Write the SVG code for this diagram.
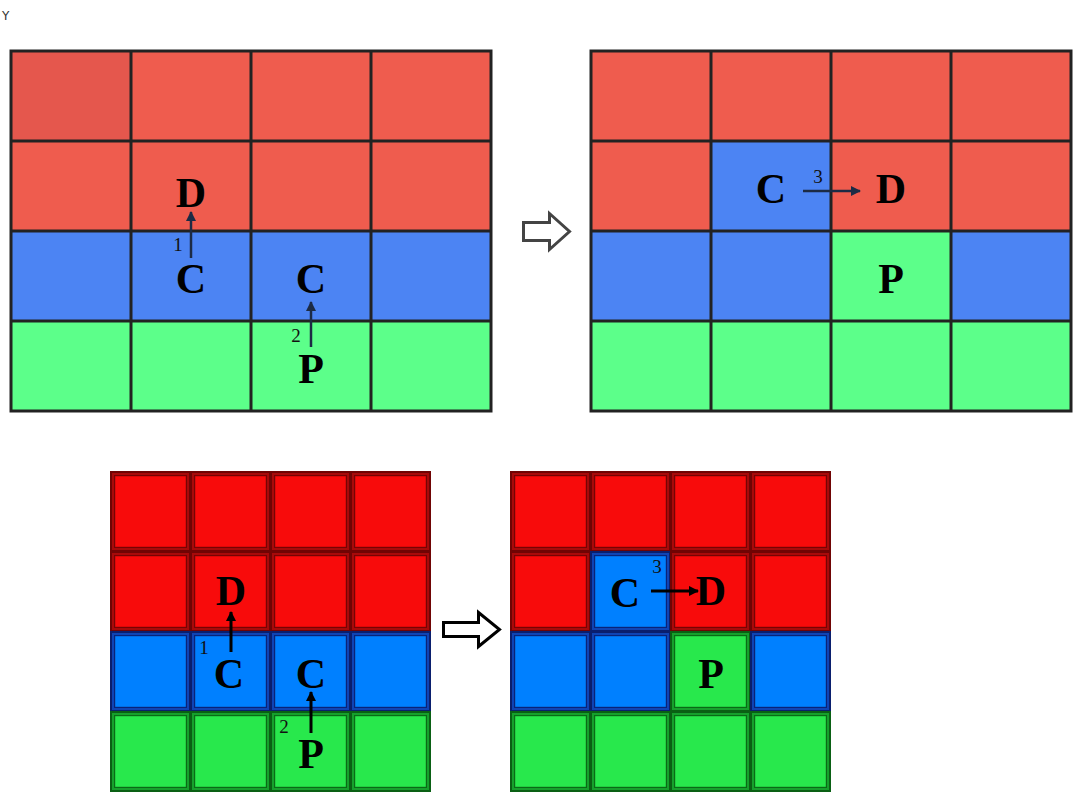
<svg xmlns="http://www.w3.org/2000/svg" width="1073" height="793" viewBox="0 0 1073 793">
<defs>
<style>
.r{fill:#ef5c4e}.b{fill:#4c84f3}.g{fill:#5cff8a}
.grid{stroke:#222;stroke-width:3;fill:none}
.lbl{font-family:"Liberation Serif",serif;font-weight:bold;font-size:42px;text-anchor:middle;fill:#000}
.num{font-family:"Liberation Serif",serif;font-size:19px;text-anchor:middle;fill:#111}
.br{fill:#a80a0a;stroke:#700404;stroke-width:2}
.bri{fill:#f80b0b;stroke:#750404;stroke-width:1.2}
.bb{fill:#0f44b5;stroke:#0a1f6e;stroke-width:2}
.bbi{fill:#0080ff;stroke:#0a2378;stroke-width:1.2}
.bg{fill:#16a02c;stroke:#0a6014;stroke-width:2}
.bgi{fill:#28e84c;stroke:#0a6a16;stroke-width:1.2}
.ar1{stroke:#1c2b45;stroke-width:2.5;fill:none;marker-end:url(#ah1)}
.ar2{stroke:#000;stroke-width:3;fill:none;marker-end:url(#ah2)}
</style>
<marker id="ah1" viewBox="0 0 10 10" refX="9" refY="5" markerWidth="4" markerHeight="4" orient="auto"><path d="M0,0 L10,5 L0,10 z" fill="#1c2b45"/></marker>
<marker id="ah2" viewBox="0 0 10 10" refX="9" refY="5" markerWidth="3.5" markerHeight="3.5" orient="auto"><path d="M0,0 L10,5 L0,10 z" fill="#000"/></marker>
</defs>
<rect width="1073" height="793" fill="#fff"/>
<text x="2" y="20" font-family="DejaVu Sans, sans-serif" font-size="12" fill="#333">Y</text>

<g id="grid-top-left">
<rect class="r" x="11" y="51" width="480" height="180"/>
<rect x="11" y="51" width="120" height="90" fill="#e5574d"/>
<rect class="b" x="11" y="231" width="480" height="90"/>
<rect class="g" x="11" y="321" width="480" height="90"/>
<path class="grid" d="M11,51H491V411H11Z M131,51V411 M251,51V411 M371,51V411 M11,141H491 M11,231H491 M11,321H491"/>
</g>
<g id="grid-top-right">
<rect class="r" x="591" y="51" width="480" height="180"/>
<rect class="b" x="591" y="231" width="480" height="90"/>
<rect class="b" x="711" y="141" width="120" height="90"/>
<rect class="g" x="591" y="321" width="480" height="90"/>
<rect class="g" x="831" y="231" width="120" height="90"/>
<path class="grid" d="M591,51H1071V411H591Z M711,51V411 M831,51V411 M951,51V411 M591,141H1071 M591,231H1071 M591,321H1071"/>
</g>
<g id="arrow-top">
<path d="M523.5,222.5H549.5V213.5L569.5,231.5L549.5,249.5V240.5H523.5Z" fill="#fff" stroke="#444" stroke-width="3"/>
</g>

<g id="grid-bottom-left">
<rect class="br" x="111" y="472" width="79" height="79"/><rect class="bri" x="114.6" y="475.6" width="71.8" height="71.8"/>
<rect class="br" x="191" y="472" width="79" height="79"/><rect class="bri" x="194.6" y="475.6" width="71.8" height="71.8"/>
<rect class="br" x="271" y="472" width="79" height="79"/><rect class="bri" x="274.6" y="475.6" width="71.8" height="71.8"/>
<rect class="br" x="351" y="472" width="79" height="79"/><rect class="bri" x="354.6" y="475.6" width="71.8" height="71.8"/>
<rect class="br" x="111" y="552" width="79" height="79"/><rect class="bri" x="114.6" y="555.6" width="71.8" height="71.8"/>
<rect class="br" x="191" y="552" width="79" height="79"/><rect class="bri" x="194.6" y="555.6" width="71.8" height="71.8"/>
<rect class="br" x="271" y="552" width="79" height="79"/><rect class="bri" x="274.6" y="555.6" width="71.8" height="71.8"/>
<rect class="br" x="351" y="552" width="79" height="79"/><rect class="bri" x="354.6" y="555.6" width="71.8" height="71.8"/>
<rect class="bb" x="111" y="632" width="79" height="79"/><rect class="bbi" x="114.6" y="635.6" width="71.8" height="71.8"/>
<rect class="bb" x="191" y="632" width="79" height="79"/><rect class="bbi" x="194.6" y="635.6" width="71.8" height="71.8"/>
<rect class="bb" x="271" y="632" width="79" height="79"/><rect class="bbi" x="274.6" y="635.6" width="71.8" height="71.8"/>
<rect class="bb" x="351" y="632" width="79" height="79"/><rect class="bbi" x="354.6" y="635.6" width="71.8" height="71.8"/>
<rect class="bg" x="111" y="712" width="79" height="79"/><rect class="bgi" x="114.6" y="715.6" width="71.8" height="71.8"/>
<rect class="bg" x="191" y="712" width="79" height="79"/><rect class="bgi" x="194.6" y="715.6" width="71.8" height="71.8"/>
<rect class="bg" x="271" y="712" width="79" height="79"/><rect class="bgi" x="274.6" y="715.6" width="71.8" height="71.8"/>
<rect class="bg" x="351" y="712" width="79" height="79"/><rect class="bgi" x="354.6" y="715.6" width="71.8" height="71.8"/>
</g>
<g id="grid-bottom-right">
<rect class="br" x="511" y="472" width="79" height="79"/><rect class="bri" x="514.6" y="475.6" width="71.8" height="71.8"/>
<rect class="br" x="591" y="472" width="79" height="79"/><rect class="bri" x="594.6" y="475.6" width="71.8" height="71.8"/>
<rect class="br" x="671" y="472" width="79" height="79"/><rect class="bri" x="674.6" y="475.6" width="71.8" height="71.8"/>
<rect class="br" x="751" y="472" width="79" height="79"/><rect class="bri" x="754.6" y="475.6" width="71.8" height="71.8"/>
<rect class="br" x="511" y="552" width="79" height="79"/><rect class="bri" x="514.6" y="555.6" width="71.8" height="71.8"/>
<rect class="bb" x="591" y="552" width="79" height="79"/><rect class="bbi" x="594.6" y="555.6" width="71.8" height="71.8"/>
<rect class="br" x="671" y="552" width="79" height="79"/><rect class="bri" x="674.6" y="555.6" width="71.8" height="71.8"/>
<rect class="br" x="751" y="552" width="79" height="79"/><rect class="bri" x="754.6" y="555.6" width="71.8" height="71.8"/>
<rect class="bb" x="511" y="632" width="79" height="79"/><rect class="bbi" x="514.6" y="635.6" width="71.8" height="71.8"/>
<rect class="bb" x="591" y="632" width="79" height="79"/><rect class="bbi" x="594.6" y="635.6" width="71.8" height="71.8"/>
<rect class="bg" x="671" y="632" width="79" height="79"/><rect class="bgi" x="674.6" y="635.6" width="71.8" height="71.8"/>
<rect class="bb" x="751" y="632" width="79" height="79"/><rect class="bbi" x="754.6" y="635.6" width="71.8" height="71.8"/>
<rect class="bg" x="511" y="712" width="79" height="79"/><rect class="bgi" x="514.6" y="715.6" width="71.8" height="71.8"/>
<rect class="bg" x="591" y="712" width="79" height="79"/><rect class="bgi" x="594.6" y="715.6" width="71.8" height="71.8"/>
<rect class="bg" x="671" y="712" width="79" height="79"/><rect class="bgi" x="674.6" y="715.6" width="71.8" height="71.8"/>
<rect class="bg" x="751" y="712" width="79" height="79"/><rect class="bgi" x="754.6" y="715.6" width="71.8" height="71.8"/>
</g>
<g id="arrow-bottom">
<path d="M443.5,622.5H478.5V612.5L499.5,629.5L478.5,646.5V636.5H443.5Z" fill="#fff" stroke="#000" stroke-width="3"/>
</g>

<g id="connectors">
<line class="ar1" x1="191" y1="258" x2="191" y2="212"/>
<line class="ar1" x1="311" y1="347" x2="311" y2="302"/>
<line class="ar1" x1="803" y1="191" x2="860" y2="191"/>
<line class="ar2" x1="231" y1="652" x2="231" y2="612"/>
<line class="ar2" x1="311" y1="733" x2="311" y2="692"/>
<line class="ar2" x1="651" y1="591" x2="698" y2="591"/>
</g>

<g id="labels">
<text class="lbl" x="191" y="207">D</text>
<text class="lbl" x="191" y="293">C</text>
<text class="lbl" x="311" y="293">C</text>
<text class="lbl" x="311" y="383">P</text>
<text class="num" x="178" y="251">1</text>
<text class="num" x="296" y="342">2</text>
<text class="lbl" x="771" y="203">C</text>
<text class="lbl" x="891" y="203">D</text>
<text class="lbl" x="891" y="293">P</text>
<text class="num" x="818" y="183">3</text>
<text class="lbl" x="231" y="605">D</text>
<text class="lbl" x="229" y="688">C</text>
<text class="lbl" x="311" y="688">C</text>
<text class="lbl" x="311" y="768">P</text>
<text class="num" x="204" y="654">1</text>
<text class="num" x="284" y="733">2</text>
<text class="lbl" x="625" y="607">C</text>
<text class="lbl" x="711" y="605">D</text>
<text class="lbl" x="711" y="688">P</text>
<text class="num" x="657" y="573">3</text>
</g>
</svg>
